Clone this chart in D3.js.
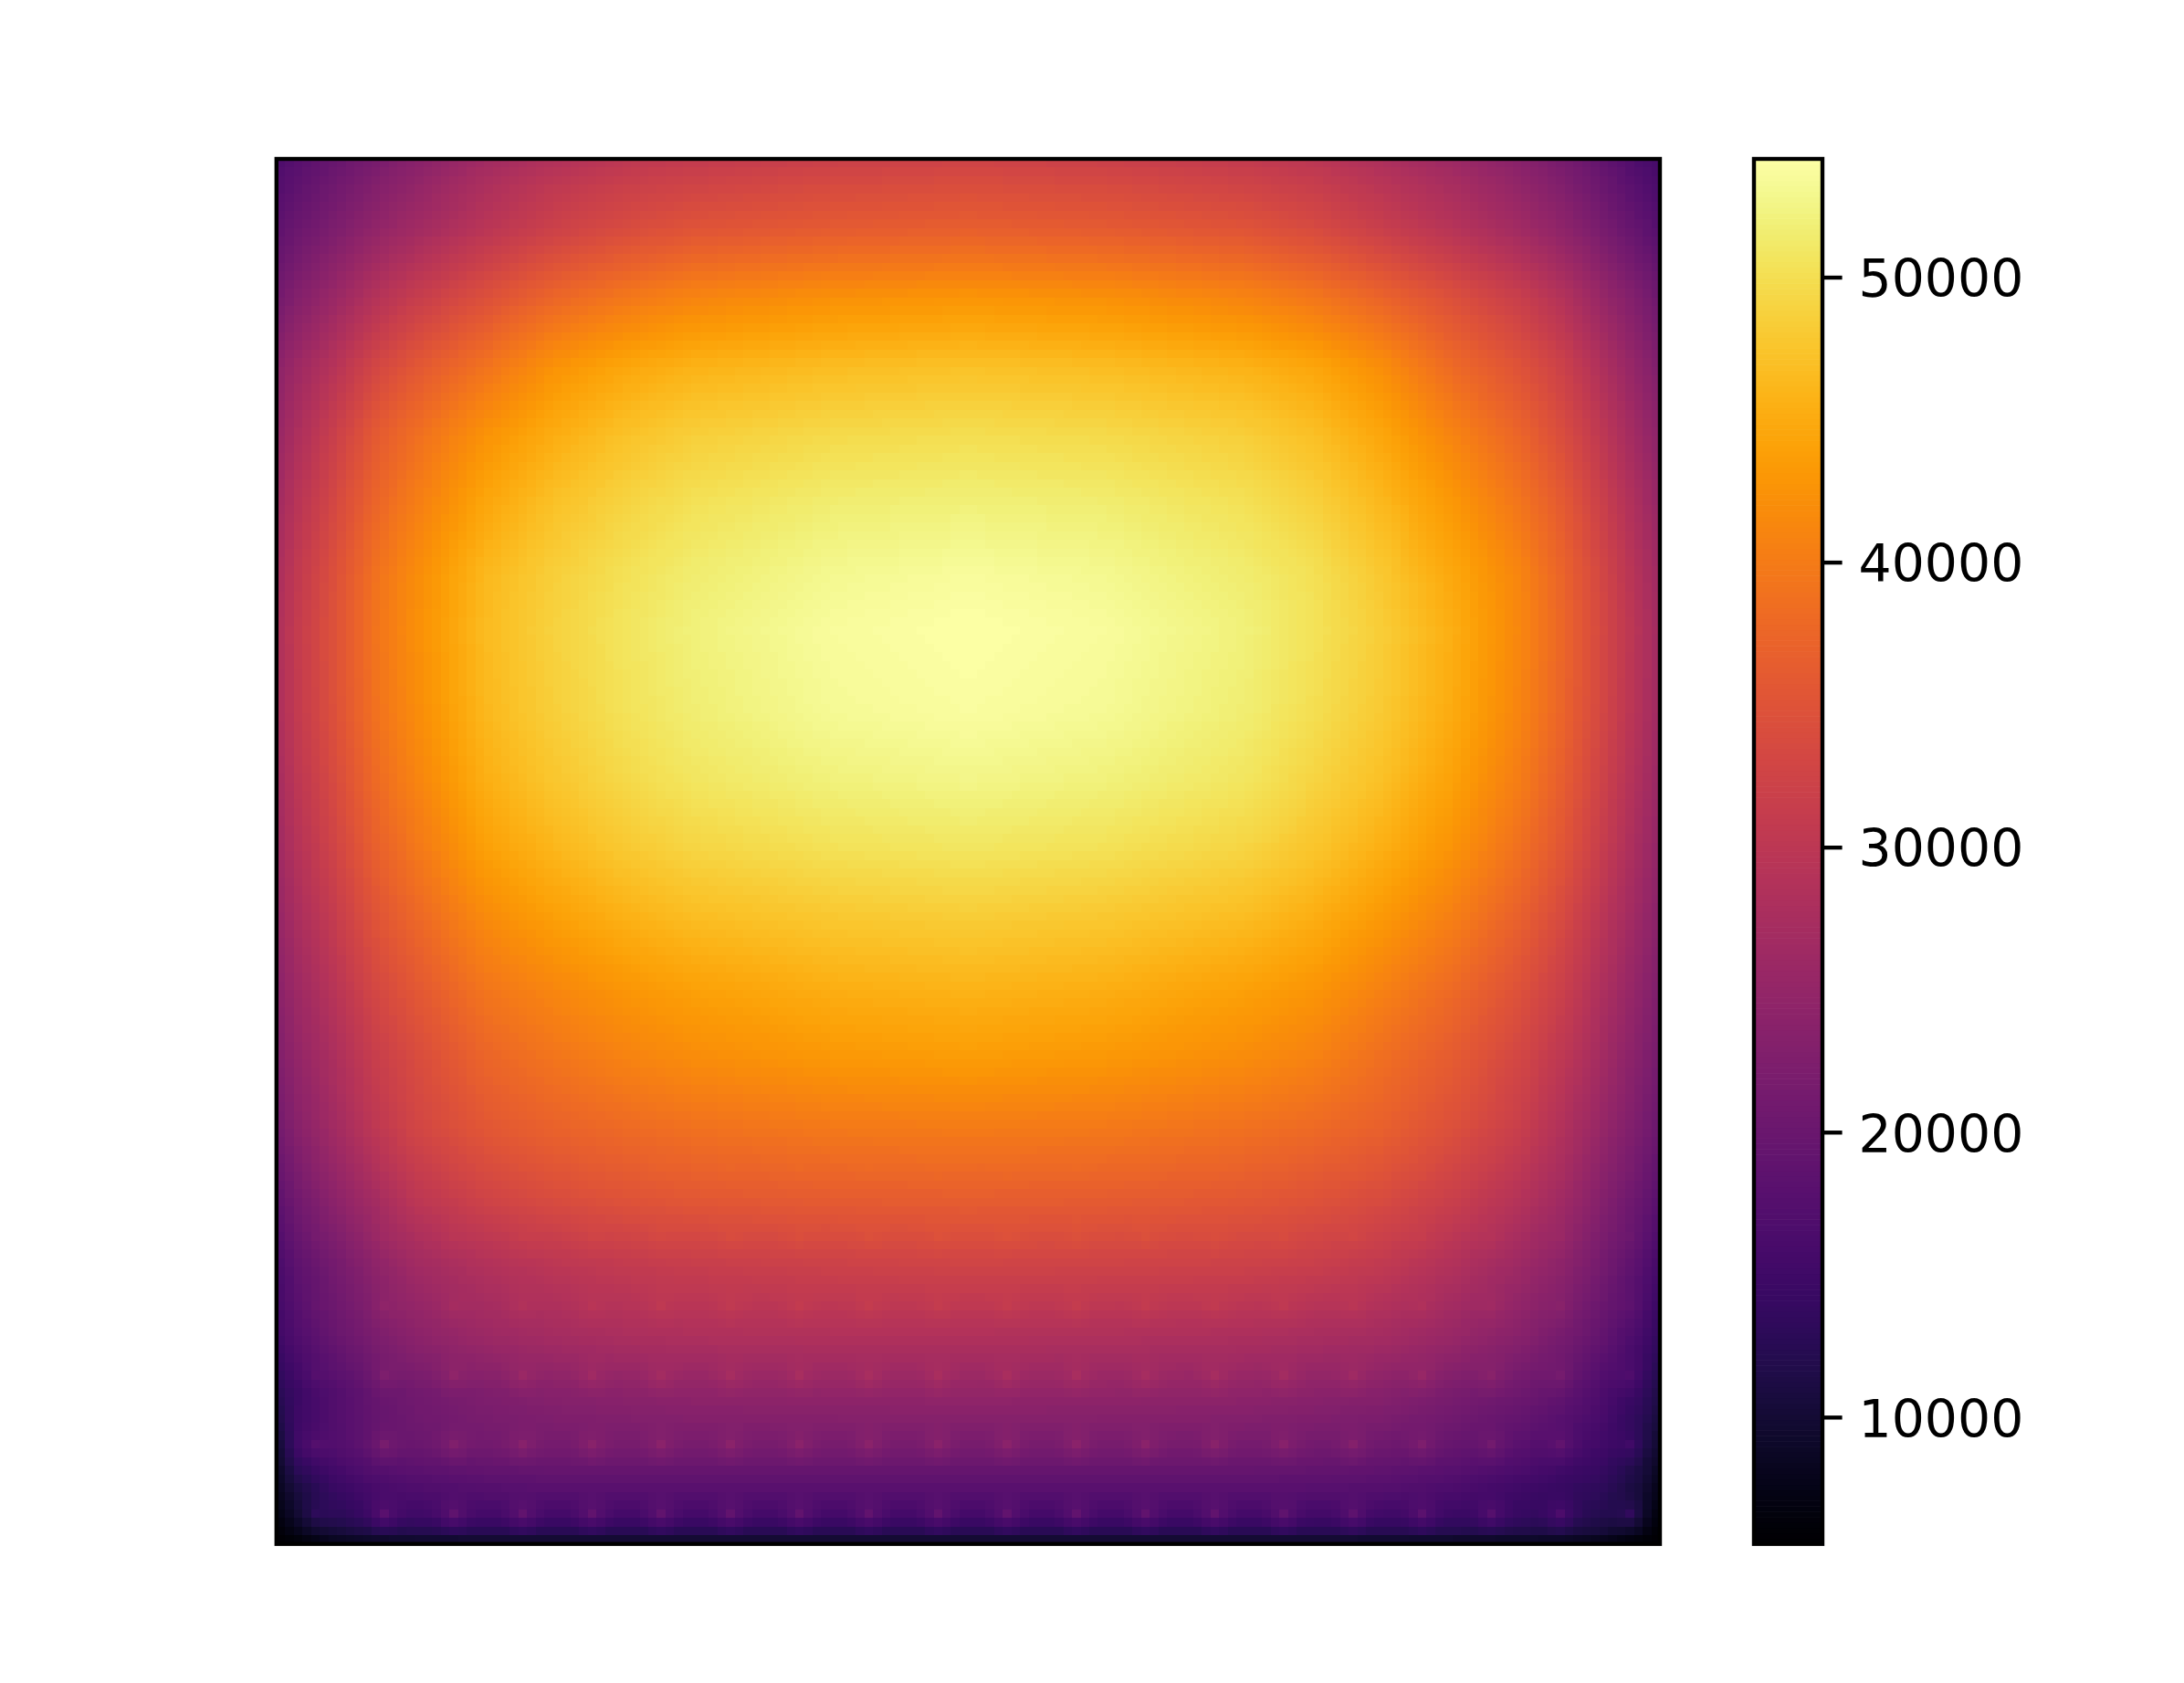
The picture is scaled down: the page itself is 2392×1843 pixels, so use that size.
<!DOCTYPE html>
<html><head><meta charset="utf-8">
<script src="https://cdn.jsdelivr.net/npm/d3@7"></script>
<style>html,body{margin:0;padding:0;background:#fff}#c{position:relative;width:2392px;height:1843px;overflow:hidden}canvas,svg{position:absolute;left:0;top:0}</style>
</head><body><div id="c"></div>
<script>
// Values, in thousands. Columns and rows are axes fractions.
const colNodes=[0,.015,.04,.07,.1,.15,.2,.25,.3,.4,.5,.6,.7,.75,.8,.85,.9,.93,.96,.985,1];
const rowNodes=[0,.02,.05,.1,.15,.2,.25,.3,.34,.4,.45,.5,.55,.6,.65,.7,.75,.8,.85,.89,.93,.96,.98,.99,1];
const r00=[16.5,17.8,19.5,21.5,23.5,26.5,28.5,30,30.8,31.8,32.3,31.8,30.8,29.8,28,26,23.5,21.5,19,16.5,15.5];
const r02=[17.3,18.7,20.5,22.8,24.8,28,30.3,31.8,32.6,33.7,34.2,33.7,32.6,31.5,29.6,27.5,24.8,22.7,20,17.6,16.3];
const r05=[18.5,20,22,24.5,26.5,29.5,32,33.7,35,36,36.5,36,35,33.6,31.5,29.2,26.5,24.3,21.5,19,17.5];
const r10=[21,23,25.5,28.8,31.2,34.5,37.5,39.5,41,42.3,42.8,42.3,41,39.5,37.2,34.5,31.5,28.8,25.2,22.3,20.3];
const r15=[24,26.2,29,32.8,35.5,39,42.5,44.5,45.7,46.7,47.2,46.7,45.7,44.5,42,38,34.8,32,28,24.5,22.5];
const r20=[25.3,28,31.5,35.8,38.5,42.5,45.2,47.2,48.5,49.6,50,49.6,48.5,47,44.5,41,37.3,34,30,26.2,24];
const r25=[26.6,29.5,33,37.3,40.2,44.5,47.2,49,50.3,51.6,52,51.6,50.3,48.8,46.3,43.2,39.3,36,31.6,27.6,25.2];
const r30=[27.6,30.6,34.2,38.7,41.8,46.2,48.5,50.2,51.5,53,53.6,53,51.5,50.2,47.8,44.7,41,37.2,32.7,28.6,26.2];
const r34=[28,31,34.5,39,42,46.5,48.8,50.6,52,53.6,54.2,53.6,52,50.4,48.3,45.3,41.2,37.5,33,29,26.5];
const r40=[27.8,30.8,34.3,38.7,41.7,46.2,48.5,50.3,51.6,53.2,53.8,53.2,51.6,50,48,45,40.9,37.2,32.8,28.8,26.3];
const r45=[27,30,33.4,37.8,40.8,45.3,47.6,49.4,50.7,52,52.6,52,50.7,49,47,44,40,36.4,32,28,25.6];
const r50=[26.1,29,32.3,36.5,39.4,43.8,46,47.8,49,50.2,50.7,50.2,49,47.5,45.3,42.5,38.6,35.2,31,27,24.7];
const r55=[25,27.6,30.8,34.8,37.5,41.5,43.7,45.4,46.6,47.7,48.2,47.7,46.6,45.2,43,40.3,36.6,33.4,29.4,25.8,23.6];
const r60=[23.7,26.2,29.2,33,35.5,39.3,41.2,42.8,43.9,45.3,45.8,45.3,43.9,42.8,40.6,38,34.6,31.7,27.9,24.5,22.4];
const r65=[22.5,24.9,27.7,31.3,33.7,37.3,39.2,40.7,41.8,43,43.5,43,41.8,40.7,38.5,36.1,32.9,30.1,26.5,23.3,21.3];
const r70=[21,23.5,26.5,30,32.8,35.5,37,38,38.8,39.7,40,39.7,38.8,38,36.8,34.5,31.5,28.5,25,22,20];
const r75=[18.5,21,24,27,30,32.5,34,35,35.7,36.3,36.5,36.3,35.7,35,33.8,31.8,29,26.5,23,20,18];
const r80=[16,18.5,21,24,26.5,28.5,29.8,30.7,31.3,32,32.5,32.3,32,31.5,30.5,28.5,26,24,21,18,15.5];
const r85=[15,17,19.5,22,24,26,27,27.8,28.2,28.5,28.5,28.3,28,27.5,27,25.5,23.5,21.5,19,16,13.5];
const r89=[12.5,14.5,17,19.5,21,22.5,23.5,24,24.5,24.8,25,24.8,24.5,24,23.5,22,20.5,19,16.5,14,11.5];
const r93=[9.5,15,17,19,20,21,21.3,21.5,21.5,21.5,21.5,21.5,21.3,21,20.5,19.5,18,16.5,15,12,9.5];
const r96=[8,11,14,16,16.8,17.5,18,18,18,18,18,18,18,17.8,17.5,16.5,15,14,13,10.5,7.5];
const r98=[7,9.5,12.5,14.5,15,15.5,15.5,15.5,15.5,15.5,15.5,15.5,15.5,15.3,15,14.5,14,13.2,12,9.5,6.5];
const r99=[6,8,10.5,12,12.5,13,13,13,13,13,13,13,13,13,12.8,12.5,12,11.5,10.5,8,5.8];
const r100=[5.5,6,7.5,8.2,8.5,8.7,8.7,8.7,8.7,8.7,8.7,8.7,8.7,8.7,8.5,8.2,8,7.8,7,5.8,5.5];
const heatRows=[r00,r02,r05,r10,r15,r20,r25,r30,r34,r40,r45,r50,r55,r60,r65,r70,r75,r80,r85,r89,r93,r96,r98,r99,r100];
// Small bright spots near the bottom: image cells and their lift, in thousands
const spotCols=[4,12,20,28,36,44,52,60,68,76,84,92,100,108,116,124,132,140,148,156];
const spotRows=[156,148,140,132,124,116];
const spotLift=[3.2,2.2,1.6,0.9,0.5,0.2];
const spotShape=[[0,.1,.15,.1,0],[.1,.3,.4,.3,.1],[.15,.45,1,.45,.15],[.1,.35,.55,.35,.1],[0,.15,.25,.15,0]];
const cbarTicks=[10000,20000,30000,40000,50000];
const cbarDomain=[5550,54150];

const W=2392,H=1843,L=302.8,R=1818,T=174,B=1690.7,CL=1921,CR=1996,N=160;
const SPINE=4.4,TICK=19.4,FONT=56.8;
const box=d3.select('#c');
const color=d3.scaleSequential(d3.interpolateInferno).domain(cbarDomain);
const colIndex=d3.scaleLinear().domain(colNodes).range(d3.range(colNodes.length)).clamp(true);
const rowIndex=d3.scaleLinear().domain(rowNodes).range(d3.range(rowNodes.length)).clamp(true);
const cell=d3.scaleBand().domain(d3.range(N)).range([0,1]);
function sample(fx,fy){
  const a=colIndex(fx),b=rowIndex(fy);
  const i=Math.min(Math.floor(a),colNodes.length-2),j=Math.min(Math.floor(b),rowNodes.length-2);
  const top=d3.interpolateNumber(heatRows[j][i],heatRows[j][i+1])(a-i);
  const bot=d3.interpolateNumber(heatRows[j+1][i],heatRows[j+1][i+1])(a-i);
  return d3.interpolateNumber(top,bot)(b-j);
}
const grid=d3.range(N).map(r=>d3.range(N).map(c=>sample(cell(c)+cell.bandwidth()/2,cell(r)+cell.bandwidth()/2)));
spotRows.forEach((r,k)=>spotCols.forEach((c,m)=>{
  const w=(m===0?0.6:1)*spotLift[k];
  spotShape.forEach((line,dr)=>line.forEach((s,dc)=>{
    const rr=r+dr-2,cc=c+dc-2;
    if(rr>=0&&rr<N&&cc>=0&&cc<N)grid[rr][cc]+=w*s;
  }));
}));
const small=document.createElement('canvas');small.width=N;small.height=N;
const sc=small.getContext('2d');
grid.forEach((row,r)=>row.forEach((v,c)=>{sc.fillStyle=color(v*1000);sc.fillRect(c,r,1,1);}));
const big=box.append('canvas').attr('width',W).attr('height',H).node();
const ctx=big.getContext('2d');
ctx.fillStyle='#fff';ctx.fillRect(0,0,W,H);
ctx.imageSmoothingEnabled=false;
ctx.drawImage(small,L,T,R-L,B-T);

const svg=box.append('svg').attr('width',W).attr('height',H);
const cbarY=d3.scaleLinear().domain(cbarDomain).range([B,T]);
const levels=d3.range(256);
const levelValue=d3.scaleLinear().domain([0,256]).range(cbarDomain);
svg.append('g').selectAll('rect').data(levels).join('rect')
  .attr('x',CL).attr('width',CR-CL)
  .attr('y',d=>cbarY(levelValue(d+1)))
  .attr('height',d=>cbarY(levelValue(d))-cbarY(levelValue(d+1))+.6)
  .attr('fill',d=>d3.interpolateInferno((d+.5)/256));
svg.append('rect').attr('x',L).attr('y',T).attr('width',R-L).attr('height',B-T).attr('fill','none').attr('stroke','#000').attr('stroke-width',SPINE);
svg.append('rect').attr('x',CL).attr('y',T).attr('width',CR-CL).attr('height',B-T).attr('fill','none').attr('stroke','#000').attr('stroke-width',SPINE);
const axis=d3.axisRight(cbarY).tickValues(cbarTicks).tickFormat(d3.format('d')).tickSize(TICK+SPINE/2).tickPadding(18);
const g=svg.append('g').attr('transform',`translate(${CR},0)`).call(axis);
g.select('.domain').remove();
g.selectAll('line').attr('stroke','#000').attr('stroke-width',SPINE);
g.selectAll('text').attr('fill','#000').attr('dy','0.375em').style('font-family','"DejaVu Sans"').style('font-size',FONT+'px');
</script></body></html>
